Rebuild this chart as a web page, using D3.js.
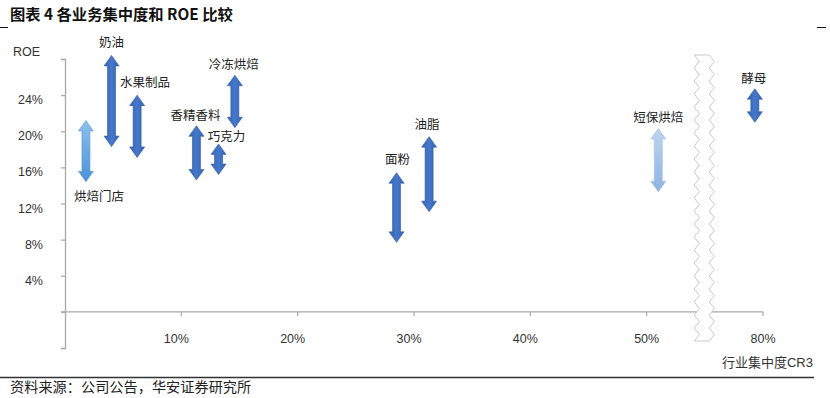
<!DOCTYPE html>
<html>
<head>
<meta charset="utf-8">
<script src="https://cdn.jsdelivr.net/npm/d3@7/dist/d3.min.js"></script>
<style>
  html, body { margin: 0; padding: 0; background: #fff; }
  svg { display: block; }
</style>
</head>
<body>
<svg id="chart" width="830" height="398"></svg>
<script>
// ---------------- DATA ----------------
const categories = ["烘焙门店", "奶油", "水果制品", "香精香料", "巧克力", "冷冻烘焙", "面粉", "油脂", "短保烘焙", "酵母"];
const cr3 = [1.8, 4.0, 6.2, 11.3, 13.2, 14.6, 28.5, 31.3, 51.0, 79.3];       // 行业集中度 CR3 (%)
const roeLow = [14.4, 18.3, 17.1, 14.6, 15.2, 20.4, 7.7, 11.1, 13.3, 21.0];  // ROE range low (%)
const roeHigh = [21.2, 28.4, 24.0, 20.6, 18.6, 26.2, 15.4, 19.4, 20.3, 24.7]; // ROE range high (%)
const arrowStyle = ["light", "dark", "dark", "dark", "dark", "dark", "dark", "dark", "pale", "dark"];
const yTickValues = [4, 8, 12, 16, 20, 24];
const yTickLabels = ["4%", "8%", "12%", "16%", "20%", "24%"];
const xTickValues = [10, 20, 30, 40, 50, 80];
const xTickLabels = ["10%", "20%", "30%", "40%", "50%", "80%"];
const breakFrom = 55, breakTo = 75;   // axis break: 55% .. 75% removed

// ---------------- LAYOUT ----------------
const svg = d3.select("#chart");
const cjk = "'Noto Sans CJK SC', 'Noto Sans', sans-serif";
const latin = "'Liberation Sans', Arial, sans-serif";

const plotLeft = 65, plotRight = 763;
const breakShift = breakTo - breakFrom;
const xLin = d3.scaleLinear().domain([0, 60]).range([plotLeft, plotRight]);
const x = v => xLin(v > breakFrom ? v - breakShift : v);
const y = d3.scaleLinear().domain([-4, 28]).range([348, 59]);

// defs: gradients
const defs = svg.append("defs");
function grad(id, stops, vertical) {
  const g = defs.append("linearGradient").attr("id", id)
    .attr("x1", 0).attr("y1", 0).attr("x2", vertical ? 0 : 1).attr("y2", vertical ? 1 : 0);
  stops.forEach(s => g.append("stop").attr("offset", s[0]).attr("stop-color", s[1]));
}
grad("gDark", [[0, "#3464b4"], [0.5, "#4677c9"], [1, "#3464b4"]], false);
grad("gLight", [[0, "#8cc0ec"], [1, "#4b92d9"]], true);
grad("gPale", [[0, "#bcd5ef"], [1, "#8db3e1"]], true);
const fills = { dark: "url(#gDark)", light: "url(#gLight)", pale: "url(#gPale)" };
const strokes = { dark: "#2f5a9f", light: "#5c9ad6", pale: "#9dbde3" };

// Title
svg.append("text").attr("x", 10).attr("y", 20)
  .attr("font-family", cjk).attr("font-weight", 700).attr("font-size", 15.3).attr("fill", "#111")
  .text("图表 4 各业务集中度和 ROE 比较");
svg.append("line").attr("x1", 0).attr("x2", 8).attr("y1", 27.5).attr("y2", 27.5).attr("stroke", "#111");
svg.append("line").attr("x1", 817).attr("x2", 826).attr("y1", 27.5).attr("y2", 27.5).attr("stroke", "#111");

// Y axis
const axisColor = "#a8a8a8";
const yAxis = d3.axisLeft(y).tickValues([-4, 0, 4, 8, 12, 16, 20, 24, 28]).tickSize(4).tickFormat("");
const gy = svg.append("g").attr("transform", `translate(${plotLeft},0)`).call(yAxis);
gy.select(".domain").attr("stroke", axisColor).attr("stroke-width", 1.3);
gy.selectAll(".tick line").attr("stroke", axisColor).attr("stroke-width", 1.2);

svg.append("g").selectAll("text").data(yTickValues).join("text")
  .attr("x", 43).attr("y", d => y(d) + 9)
  .attr("text-anchor", "end")
  .attr("font-family", latin).attr("font-size", 12.5).attr("fill", "#333")
  .text((d, i) => yTickLabels[i]);
svg.append("text").attr("x", 13).attr("y", 56)
  .attr("font-family", latin).attr("font-size", 12.5).attr("fill", "#333").text("ROE");

// X axis
const gx = svg.append("g").attr("transform", `translate(0,${y(0)})`);
gx.append("line").attr("x1", plotLeft - 4).attr("x2", plotRight).attr("y1", 0).attr("y2", 0)
  .attr("stroke", axisColor).attr("stroke-width", 1.3);
gx.selectAll("line.tk").data(xTickValues).join("line").attr("class", "tk")
  .attr("x1", d => x(d)).attr("x2", d => x(d)).attr("y1", 0).attr("y2", 4)
  .attr("stroke", axisColor).attr("stroke-width", 1.2);
gx.selectAll("text").data(xTickValues).join("text")
  .attr("x", (d, i) => x(d) - (i < 4 ? 5 : 0)).attr("y", 31)
  .attr("text-anchor", "middle")
  .attr("font-family", latin).attr("font-size", 12.5).attr("fill", "#333")
  .text((d, i) => xTickLabels[i]);

svg.append("text").attr("x", 813).attr("y", 367).attr("text-anchor", "end")
  .attr("font-family", cjk).attr("font-size", 13).attr("fill", "#333")
  .text("行业集中度").append("tspan").attr("font-family", latin).text("CR3");

// Axis break (wavy white band)
(function () {
  const bx = x(breakFrom) - 8, bw = 15, top = 55, bottom = 341, amp = 2.6, period = 13;
  const left = [], right = [];
  for (let yy = top, k = 0; yy <= bottom; yy += period / 2, k++) {
    const off = (k % 2 === 0 ? -amp : amp);
    left.push([bx + off, yy]);
    right.push([bx + bw + off, yy]);
  }
  const pts = left.concat(right.reverse());
  svg.append("path")
    .attr("d", d3.line().curve(d3.curveLinear)(pts) + "Z")
    .attr("fill", "#fff").attr("stroke", "#c9c9c9").attr("stroke-width", 1);
})();

// Arrows
function arrowPath(cx, yTop, yBot) {
  const hw = 7.5, sw = 4, len = yBot - yTop;
  const hl = Math.min(10.5, len / 2.6);
  return `M${cx},${yTop} L${cx + hw},${yTop + hl} L${cx + sw},${yTop + hl} L${cx + sw},${yBot - hl}
          L${cx + hw},${yBot - hl} L${cx},${yBot} L${cx - hw},${yBot - hl} L${cx - sw},${yBot - hl}
          L${cx - sw},${yTop + hl} L${cx - hw},${yTop + hl} Z`;
}
const idx = d3.range(categories.length);
svg.append("g").selectAll("path").data(idx).join("path")
  .attr("d", i => arrowPath(x(cr3[i]), y(roeHigh[i]), y(roeLow[i])))
  .attr("fill", i => fills[arrowStyle[i]])
  .attr("stroke", i => strokes[arrowStyle[i]]).attr("stroke-width", 0.6)
  .attr("stroke-linejoin", "miter");

// Category labels (placement relative to arrow tips)
const labelPlace = {
  "烘焙门店": { anchor: "bottom", dx: 13, dy: 19.5 },
  "奶油": { anchor: "top", dx: 0, dy: -8.5 },
  "水果制品": { anchor: "top", dx: 8, dy: -8.5 },
  "香精香料": { anchor: "top", dx: -1, dy: -5.5 },
  "巧克力": { anchor: "top", dx: 8, dy: -2.5 },
  "冷冻烘焙": { anchor: "top", dx: -1, dy: -6.5 },
  "面粉": { anchor: "top", dx: 1, dy: -8.5 },
  "油脂": { anchor: "top", dx: -2, dy: -7.5 },
  "短保烘焙": { anchor: "top", dx: 0, dy: -6.5 },
  "酵母": { anchor: "top", dx: -1, dy: -5.5 }
};
svg.append("g").selectAll("text").data(idx).join("text")
  .attr("x", i => x(cr3[i]) + labelPlace[categories[i]].dx)
  .attr("y", i => (labelPlace[categories[i]].anchor === "top" ? y(roeHigh[i]) : y(roeLow[i])) + labelPlace[categories[i]].dy)
  .attr("text-anchor", "middle")
  .attr("font-family", cjk).attr("font-size", 12.5).attr("fill", "#222")
  .text(i => categories[i]);

// Footer
svg.append("line").attr("x1", 0).attr("x2", 814).attr("y1", 377.5).attr("y2", 377.5)
  .attr("stroke", "#333").attr("stroke-width", 1.5);
svg.append("text").attr("x", 10).attr("y", 392)
  .attr("font-family", cjk).attr("font-size", 14.2).attr("fill", "#222")
  .text("资料来源：公司公告，华安证券研究所");
</script>
</body>
</html>
